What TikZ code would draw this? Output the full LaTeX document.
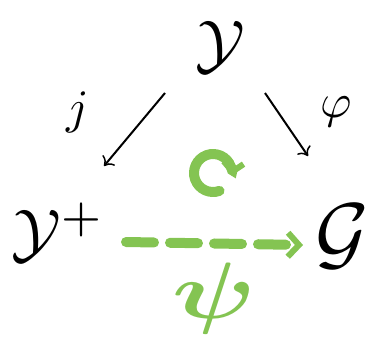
\documentclass[tikz,border=0pt]{standalone}
\usepackage{amsmath,amssymb}
\usetikzlibrary{arrows.meta}
\definecolor{hgreen}{RGB}{132,196,82}
\begin{document}
\begin{tikzpicture}[x=1pt,y=-1pt,
  obj/.style={inner sep=0pt, scale=6.6},
  bigobj/.style={inner sep=0pt, scale=8.2},
  lbl/.style={inner sep=0pt, scale=4.8},
  mapto/.style={line width=2pt, -{To[length=8pt,width=16pt,line width=1.5pt]}},
  greenline/.style={draw=hgreen, line width=10pt, line cap=round}]
\useasboundingbox (0,0) rectangle (374,337);
\node[obj] (Y) at (220,47) {$\mathcal{Y}$};
\node[obj, anchor=west] (Yp) at (10,232) {$\mathcal{Y}^{+}$};
\node[bigobj] (G) at (342,236) {$\mathcal{G}$};
\draw[mapto] (165,93) -- (104,166) coordinate (ja);
\draw[mapto] (265,93) -- (308,156) coordinate (pa);
\node[lbl] (j) at (78,112) {$j$};
\node[lbl] (phi) at (336,112) {$\varphi$};
% commutation symbol
\coordinate (cc) at (213,173);
\draw[greenline, -{Straight Barb[length=9pt,width=20pt,line width=6pt]}]
  ([shift={(70:19)}]cc) arc[start angle=70, end angle=368, radius=19];
% dashed arrow
\coordinate (ds) at (126,242);
\coordinate (de) at (303,245);
\draw[greenline, dash pattern=on 28pt off 16pt,
  -{Straight Barb[length=11pt,width=24pt,line width=6pt]}] (ds) -- (de);
\node[text=hgreen, inner sep=0pt, xscale=10.5, yscale=8, anchor=south] (psi) at (214,336) {$\boldsymbol{\psi}$};
\end{tikzpicture}
\end{document}
